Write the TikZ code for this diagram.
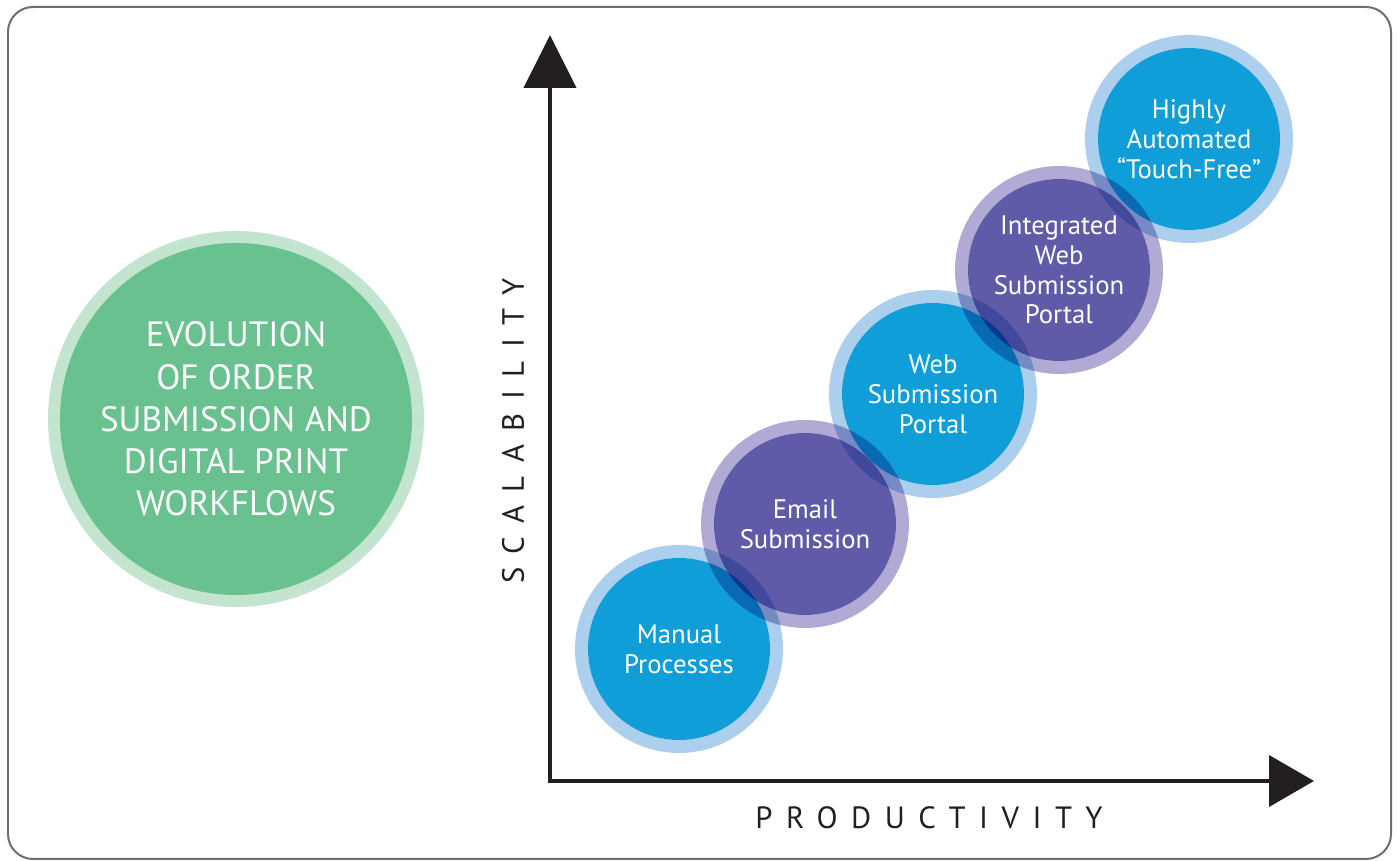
\documentclass[tikz,border=0pt]{standalone}
\usepackage{fontspec}
\setmainfont{PT Sans}
\newfontfamily\axisfont[LetterSpace=44]{PT Sans}
\usetikzlibrary{arrows.meta}
\definecolor{stageblue}{HTML}{0F9ED8}
\definecolor{ringblue}{HTML}{ABCFEC}
\definecolor{stagepurple}{HTML}{605BA8}
\definecolor{ringpurple}{HTML}{B0AAD4}
\definecolor{titlegreen}{HTML}{69C18F}
\definecolor{ringgreen}{HTML}{C3E5D0}
\definecolor{framegrey}{HTML}{6D6E71}
\definecolor{axisblack}{HTML}{231F20}
\begin{document}
\begin{tikzpicture}[x=0.02cm, y=0.02cm,
    stage/.style={text=white, align=center, font=\fontsize{15.2}{17}\selectfont},
    title/.style={text=white, align=center, font=\fontsize{20}{24}\selectfont},
    axislabel/.style={text=axisblack, font=\axisfont\fontsize{17.5}{20}\selectfont}]
    \useasboundingbox (0,0) rectangle (1400,861);
    \draw[framegrey, line width=0.04cm, rounded corners=0.5cm] (8,2) rectangle (1391,854);
    % title circle
    \coordinate (evolution) at (236,442);
    \fill[ringgreen] (evolution) circle (188);
    \fill[titlegreen] (evolution) circle (176);
    \node[title] (evolutiontext) at (evolution) {EVOLUTION\\OF ORDER\\SUBMISSION AND\\DIGITAL PRINT\\WORKFLOWS};
    % axes
    \coordinate (origin) at (550,80);
    \coordinate (ytop) at (550,826);
    \coordinate (xend) at (1314,80);
    \draw[axisblack, line width=0.08cm, {Triangle[length=1.06cm, width=1.04cm]}-{Triangle[length=0.9cm, width=1.02cm]}] (ytop) -- (origin) -- (xend);
    \node[axislabel, rotate=90] (scalability) at (513,430) {SCALABILITY};
    \node[axislabel] (productivity) at (929,43) {PRODUCTIVITY};
    % stages
    \foreach \name/\x/\y/\tone in {manual/679/212/blue, email/805/337/purple, web/933/467/blue, integrated/1059/591/purple, touchfree/1189/722/blue}{
        \coordinate (\name) at (\x,\y);
        \fill[ring\tone, blend mode=multiply, even odd rule] (\name) circle (104) circle (91);
        \fill[stage\tone, blend mode=multiply] (\name) circle (91);
    }
    \node[stage] (manualtext) at (manual) {Manual\\Processes};
    \node[stage] (emailtext) at (email) {Email\\Submission};
    \node[stage] (webtext) at (web) {Web\\Submission\\Portal};
    \node[stage] (integratedtext) at (integrated) {Integrated\\Web\\Submission\\Portal};
    \node[stage] (touchfreetext) at (touchfree) {Highly\\Automated\\“Touch-Free”};
\end{tikzpicture}
\end{document}
